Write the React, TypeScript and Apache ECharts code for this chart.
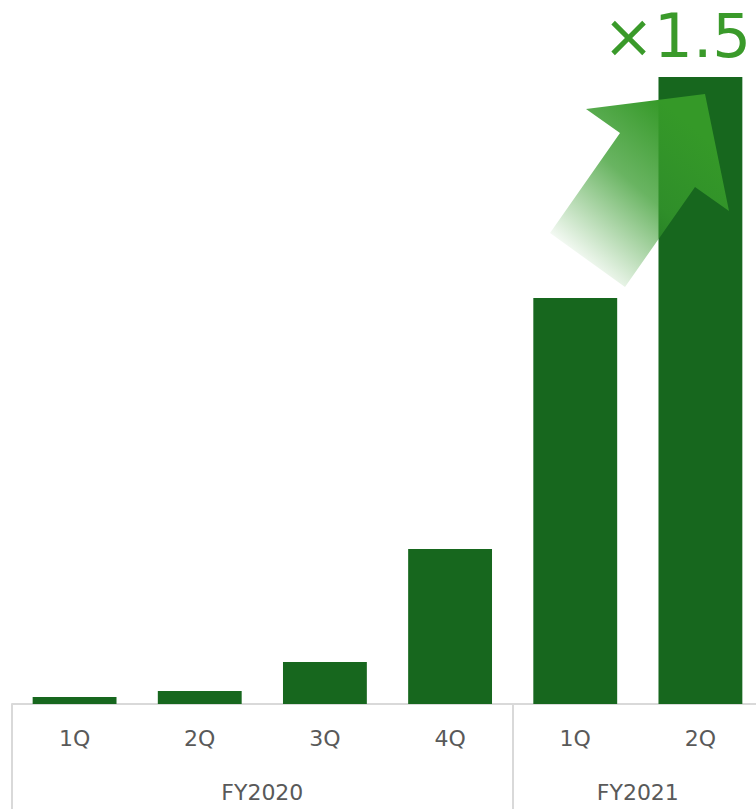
import React, { useEffect, useRef } from "react";
import * as echarts from "echarts";

const quarters = ["1Q", "2Q", "3Q", "4Q", "1Q", "2Q"];
const values = [7, 13, 42, 155, 406, 627];
const fiscalYears = ["FY2020", "FY2021"];
const fyLabelPositions = [2, 5];
const fyBoundaries = [0, 4, 6];
const multiplierText = "×1.5";

export default function App() {
  const ref = useRef<HTMLDivElement>(null);
  useEffect(() => {
    if (!ref.current) return;
    const chart = echarts.init(ref.current, null, { renderer: "svg" });
    const font = "DejaVu Sans, Verdana, sans-serif";
    chart.setOption({
      animation: false,
      grid: { left: 12, right: 0, top: 4, bottom: 105, outerBoundsMode: "none" },
      xAxis: [
        {
          type: "category",
          data: quarters,
          axisLine: { show: true, lineStyle: { color: "#d9d9d9", width: 2 } },
          axisTick: { show: false },
          axisLabel: { color: "#595959", fontSize: 22, fontFamily: font, margin: 23 },
        },
        {
          type: "value",
          min: 0,
          max: 6,
          position: "bottom",
          axisLine: { show: false },
          splitLine: { show: false },
          axisTick: {
            show: true,
            customValues: fyBoundaries,
            length: 106,
            lineStyle: { color: "#d9d9d9", width: 2 },
          },
          axisLabel: {
            customValues: fyLabelPositions,
            formatter: (v: number) => fiscalYears[fyLabelPositions.indexOf(v)] ?? "",
            color: "#595959",
            fontSize: 22,
            fontFamily: font,
            margin: 77,
          },
        },
      ],
      yAxis: {
        type: "value",
        min: 0,
        max: 700,
        show: false,
        splitLine: { show: false },
      },
      series: [
        {
          type: "bar",
          xAxisIndex: 0,
          data: values,
          barWidth: "67%",
          itemStyle: { color: "#17671e" },
        },
      ],
      graphic: [
        {
          type: "polygon",
          z: 100,
          shape: {
            points: [
              [550, 233],
              [620, 133],
              [586, 109],
              [705, 94],
              [729, 211],
              [695, 187],
              [625, 287],
            ],
          },
          style: {
            fill: new echarts.graphic.LinearGradient(
              572,
              262,
              690,
              125,
              [
                { offset: 0, color: "rgba(55,155,45,0)" },
                { offset: 0.55, color: "rgba(55,155,45,0.75)" },
                { offset: 1, color: "rgba(53,153,40,1)" },
              ],
              true
            ),
          },
        },
        {
          type: "text",
          z: 100,
          left: 603,
          top: 5,
          style: {
            text: multiplierText,
            fill: "#3a9a2a",
            fontSize: 61,
            fontFamily: font,
          },
        },
      ],
    });
    return () => chart.dispose();
  }, []);
  return (
    <div style={{ position: "absolute", left: 0, top: 0, width: 756, height: 809, overflow: "hidden" }}>
      <div ref={ref} style={{ width: 763, height: 809 }} />
    </div>
  );
}
